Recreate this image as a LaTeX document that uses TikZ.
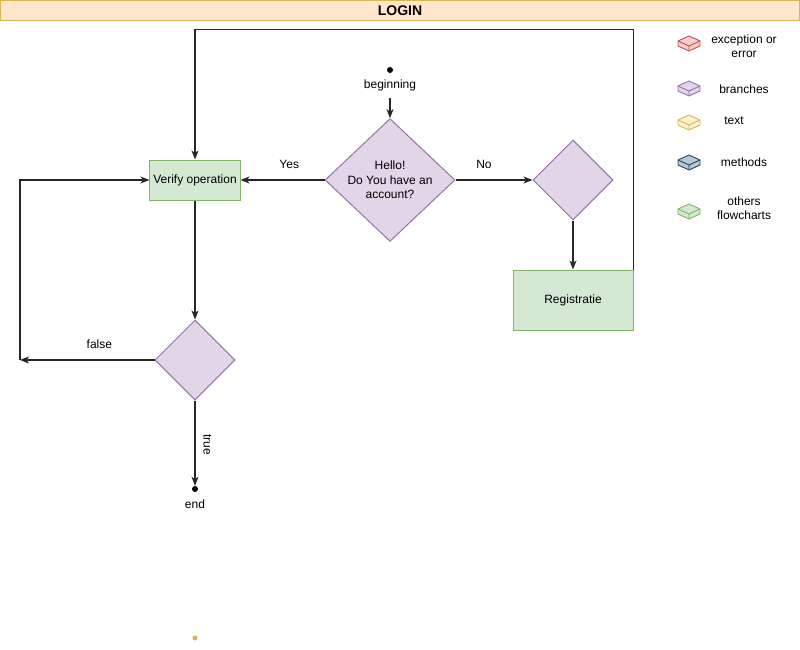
\documentclass[tikz,border=0pt]{standalone}
\usepackage{fontspec}
\setmainfont{Liberation Sans}
\usetikzlibrary{arrows.meta,shapes.geometric,positioning}
\definecolor{headfill}{HTML}{FFE6CC}
\definecolor{headline}{HTML}{D6B656}
\definecolor{branchfill}{HTML}{E1D5E7}
\definecolor{branchline}{HTML}{9673A6}
\definecolor{otherfill}{HTML}{D5E8D4}
\definecolor{otherline}{HTML}{82B366}
\definecolor{errorfill}{HTML}{F8CECC}
\definecolor{errorline}{HTML}{B85450}
\definecolor{textfill}{HTML}{FFF2CC}
\definecolor{textline}{HTML}{D6B656}
\definecolor{methodfill}{HTML}{BAC8D3}
\definecolor{methodline}{HTML}{23445D}
\tikzset{
  flow/.style={-{Stealth[length=9pt,width=7pt,inset=2.5pt]},line width=1.2pt,draw=black!85},
  choice/.style={diamond,draw=branchline,fill=branchfill,line width=1pt,
    inner sep=0pt,align=center},
  process/.style={rectangle,draw=otherline,fill=otherfill,line width=1pt,
    align=center},
  dot/.style={circle,fill=black,inner sep=0pt,minimum size=6pt}
}

\begin{document}
\begin{tikzpicture}[x=1pt,y=-1pt,font=\fontsize{12}{14.5}\selectfont]
  \useasboundingbox (0,0) rectangle (800,650);
  \node[draw=headline,fill=headfill,line width=1.5pt,minimum width=799,
    minimum height=20,font=\fontsize{14}{16}\selectfont\bfseries] (title) at (400,10.5) {LOGIN};

  % start and first question
  \node[dot] (start) at (390,70) {};
  \node (beginning) at (390,85) {beginning};
  \node[choice,minimum width=130,minimum height=120] (hello) at (390,180)
    {Hello!\\Do You have an\\account?};
  \draw[flow,shorten <=4pt] (beginning) -- (hello);

  \node[process,minimum width=90,minimum height=40] (verify) at (195,180) {Verify operation};
  \node[choice,minimum width=80,minimum height=80] (ask) at (573,180) {};
  \node[process,minimum width=120,minimum height=60] (registratie) at (573,300) {Registratie};
  \node[choice,minimum width=80,minimum height=80] (check) at (195,360) {};
  \node[dot] (stop) at (195,489) {};
  \node (end) at (195,504) {end};
  \coordinate (back) at (20,360);

  \draw[flow] (hello) -- node[pos=0.42,above=7pt] {Yes} (verify);
  \draw[flow] (hello) -- node[pos=0.37,above=7pt] {No} (ask);
  \draw[flow] (ask) -- (registratie);
  \draw[flow] (registratie.north east) -- ++(0,-240) -| (verify);
  \draw[flow] (verify) -- (check);
  \draw[flow] (check) -- node[pos=0.41,above=7pt] {false} (back);
  \draw[flow] (back) |- (verify);
  \draw[flow] (check) -- node[pos=0.52,rotate=-90,anchor=south,inner sep=8pt] {true} (stop);

  \node[dot,fill=headline,minimum size=5pt] (mark) at (195,638) {};

  % legend
  \foreach \y/\f/\d in {44/errorfill/errorline,89/branchfill/branchline,
      123/textfill/textline,163/methodfill/methodline,212/otherfill/otherline}{
    \draw[fill=\f,draw=\d,line width=0.9pt,line join=round]
      (678,\y-3) -- (689,\y-8) -- (700,\y-3) -- (700,\y+2) -- (689,\y+7) -- (678,\y+2) -- cycle;
    \draw[draw=\d,line width=0.9pt,line join=round]
      (678,\y-3) -- (689,\y+2) -- (700,\y-3) (689,\y+2) -- (689,\y+7);
  }
  \node[align=center] (error) at (744,46) {exception or\\error};
  \node (branches) at (744,89) {branches};
  \node (text) at (734,121) {text};
  \node (methods) at (744,162) {methods};
  \node[align=center] (others) at (744,208) {others\\flowcharts};
\end{tikzpicture}
\end{document}
